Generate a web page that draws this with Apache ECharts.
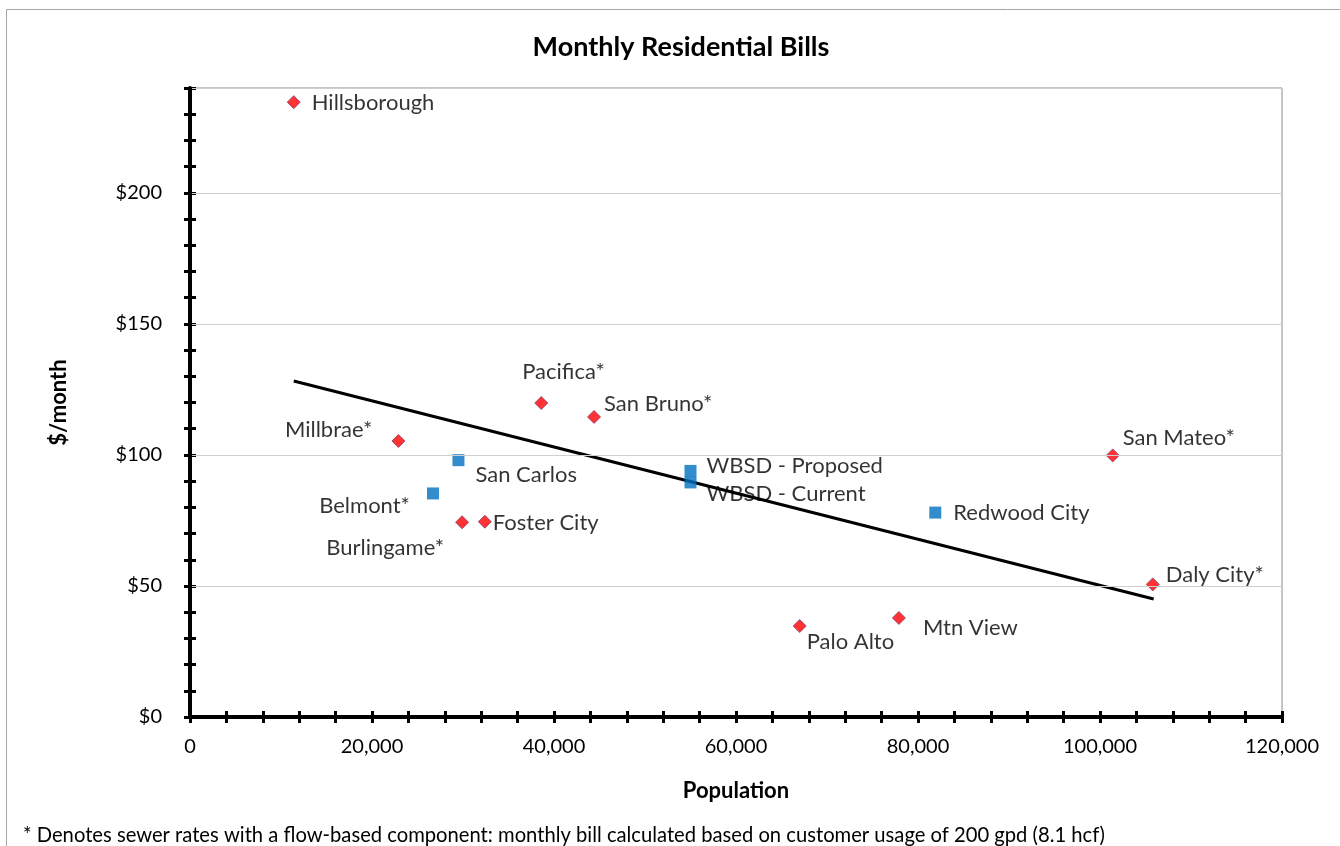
<!DOCTYPE html>
<html>
<head>
<meta charset="utf-8">
<title>Monthly Residential Bills</title>
<script src="https://cdn.jsdelivr.net/npm/echarts@6/dist/echarts.min.js"></script>
<style>
  html, body { margin: 0; padding: 0; background: #ffffff; }
  #chart { width: 1340px; height: 846px; }
</style>
</head>
<body>
<div id="chart"></div>
<script>
// Cities shown as red diamonds
const diamondCities = ['Hillsborough', 'Millbrae*', 'Pacifica*', 'San Bruno*', 'Burlingame*',
  'Foster City', 'Palo Alto', 'Mtn View', 'San Mateo*', 'Daly City*'];
const diamondPop  = [11400, 22900, 38600, 44400, 29900, 32400, 67000, 77900, 101400, 105800];
const diamondBill = [234.6, 105.3, 119.8, 114.5, 74.3, 74.5, 34.7, 37.8, 99.8, 50.6];

// Cities and districts shown as blue squares
const squareCities = ['San Carlos', 'Belmont*', 'WBSD - Proposed', 'WBSD - Current', 'Redwood City'];
const squarePop  = [29500, 26700, 55000, 55000, 81900];
const squareBill = [98.0, 85.3, 93.9, 89.5, 78.0];

// Linear trend line end points
const trendPop  = [11400, 105900];
const trendBill = [128.2, 45.0];

// Axis tick labels
const yTickLabels = [0, 50, 100, 150, 200];
const xTickLabels = [0, 20000, 40000, 60000, 80000, 100000, 120000];

// Label placement around each marker: [align, dx, dy]
const labelPlace = {
  'Hillsborough':    ['left', 18, 1],
  'Millbrae*':       ['right', -26, -11],
  'Pacifica*':       ['left', -19, -31],
  'San Bruno*':      ['left', 10, -13],
  'Burlingame*':     ['right', -18, 26],
  'Foster City':     ['left', 8, 1],
  'Palo Alto':       ['left', 7, 16],
  'Mtn View':        ['left', 24, 10],
  'San Mateo*':      ['left', 10, -18],
  'Daly City*':      ['left', 13, -9],
  'San Carlos':      ['left', 17, 15],
  'Belmont*':        ['right', -23, 12],
  'WBSD - Proposed': ['left', 16, -5],
  'WBSD - Current':  ['left', 16, 11],
  'Redwood City':    ['left', 18, 0]
};

const FONT = 'Lato, "Open Sans", sans-serif';

function pointData(names, xs, ys) {
  return names.map((n, i) => {
    const p = labelPlace[n];
    return {
      name: n,
      value: [xs[i], ys[i]],
      label: {
        show: true,
        position: 'inside',
        align: p[0],
        verticalAlign: 'middle',
        offset: [p[1], p[2]],
        formatter: '{b}',
        color: '#000',
        fontSize: 22,
        fontFamily: FONT
      }
    };
  });
}

// Minor tick positions along both axes
const yTicks = [];
for (let v = 0; v <= 240; v += 10) yTicks.push(v);
const xTicks = [];
for (let v = 0; v <= 120000; v += 4000) xTicks.push(v);

const chart = echarts.init(document.getElementById('chart'), null, { renderer: 'canvas' });

const tickStyle = { color: '#000', width: 3 };

// Helper for tick-only axes (cross ticks = one outside + one inside)
function tickAxis(extra, max, ticks, inside) {
  return Object.assign({
    type: 'value', min: 0, max: max, offset: 0,
    axisLine: { show: false },
    axisTick: { show: true, inside: inside, customValues: ticks, length: 6, lineStyle: tickStyle },
    axisLabel: { show: false },
    splitLine: { show: false }
  }, extra);
}

chart.setOption({
  animation: false,
  backgroundColor: '#ffffff',
  title: [
    {
      text: 'Monthly Residential Bills',
      left: 676, top: 29, textAlign: 'center',
      textStyle: { fontSize: 27, fontWeight: 'bold', color: '#000', fontFamily: FONT }
    },
    {
      text: '* Denotes sewer rates with a flow-based component: monthly bill calculated based on customer usage of 200 gpd (8.1 hcf)',
      left: 18, top: 820,
      textStyle: { fontSize: 20.2, fontWeight: 'normal', color: '#000', fontFamily: FONT }
    }
  ],
  graphic: [
    {
      type: 'rect', silent: true, z: -10,
      shape: { x: 6.5, y: 9.5, width: 1400, height: 900 },
      style: { fill: 'none', stroke: '#a6a6a6', lineWidth: 1 }
    }
  ],
  grid: {
    left: 190, right: 58, top: 88, bottom: 129,
    show: true, borderColor: '#8c8c8c', borderWidth: 1, backgroundColor: 'transparent'
  },
  xAxis: [
    {
      type: 'value', min: 0, max: 120000, interval: 20000,
      name: 'Population', nameLocation: 'middle', nameGap: 63,
      nameTextStyle: { fontSize: 22, fontWeight: 'bold', color: '#000', fontFamily: FONT },
      axisLine: { show: true, onZero: false, lineStyle: { color: '#000', width: 4 } },
      axisTick: { show: false },
      axisLabel: {
        customValues: xTickLabels,
        formatter: v => v.toLocaleString('en-US'),
        margin: 20, fontSize: 20, color: '#000', fontFamily: FONT
      },
      splitLine: { show: false },
      z: 5
    },
    tickAxis({ position: 'bottom' }, 120000, xTicks, false),
    tickAxis({ position: 'bottom' }, 120000, xTicks, true)
  ],
  yAxis: [
    {
      type: 'value', min: 0, max: 240, interval: 50,
      name: '$/month', nameLocation: 'middle', nameGap: 120, nameRotate: 90,
      nameTextStyle: { fontSize: 22, fontWeight: 'bold', color: '#000', fontFamily: FONT },
      axisLine: { show: true, onZero: false, lineStyle: { color: '#000', width: 4 } },
      axisTick: { show: false },
      axisLabel: {
        customValues: yTickLabels,
        formatter: v => '$' + v,
        margin: 28, fontSize: 20, color: '#000', fontFamily: FONT
      },
      splitLine: { show: true, lineStyle: { color: '#cfcfcf', width: 1 } },
      z: 5
    },
    tickAxis({ position: 'left' }, 240, yTicks, false),
    tickAxis({ position: 'left' }, 240, yTicks, true)
  ],
  series: [
    {
      name: 'Trend',
      type: 'line',
      data: trendPop.map((x, i) => [x, trendBill[i]]),
      showSymbol: false,
      symbol: 'none',
      lineStyle: { color: '#000', width: 3 },
      z: 3
    },
    {
      name: 'Cities',
      type: 'scatter',
      symbol: 'diamond',
      symbolSize: 13,
      itemStyle: { color: '#ff0000', borderColor: '#8e3a6c', borderWidth: 1 },
      data: pointData(diamondCities, diamondPop, diamondBill),
      z: 4
    },
    {
      name: 'Districts',
      type: 'scatter',
      symbol: 'rect',
      symbolSize: 12,
      itemStyle: { color: '#0070c0' },
      data: pointData(squareCities, squarePop, squareBill),
      z: 4
    }
  ]
});
</script>
</body>
</html>
